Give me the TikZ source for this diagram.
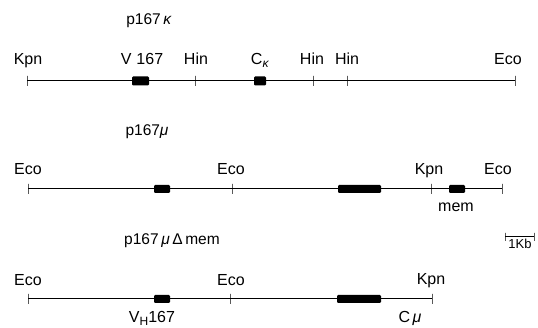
\documentclass[tikz,border=0pt]{standalone}
\usepackage{fontspec}
\setmainfont{Liberation Sans}
\begin{document}
\begin{tikzpicture}[x=1pt,y=-1pt,
  dna/.style={line width=1pt},
  site/.style={draw, line width=1pt, minimum width=0pt, minimum height=10pt,
    inner sep=0pt, outer sep=0pt},
  exon/.style={fill=black, rounded corners=1.2pt, inner sep=0pt, outer sep=0pt,
    minimum height=#1},
  exon/.default=8pt,
  lbl/.style={font=\fontsize{16}{16}\selectfont, anchor=base, inner sep=0pt},
  ttl/.style={font=\fontsize{15.5}{15.5}\selectfont, anchor=base, inner sep=0pt},
  small/.style={font=\fontsize{13}{13}\selectfont, anchor=base, inner sep=0pt}
]
\useasboundingbox (0,0) rectangle (538,328);

% ---------- p167 kappa ----------
\node[ttl] (t1) at (149,25) {p167\,\textit{κ}};
\node[site] (a1) at (27,81) {};
\node[site] (a2) at (195,81) {};
\node[site] (a3) at (313,81) {};
\node[site] (a4) at (347,81) {};
\node[site] (a5) at (515,81) {};
\draw[dna] (a1) -- (a2) -- (a3) -- (a4) -- (a5);
\node[exon=9pt, minimum width=17pt] (v1) at (140.5,81) {};
\node[exon=9pt, minimum width=12pt] (c1) at (260,81) {};
\node[lbl] (la1) at (28,65) {Kpn};
\node[lbl] (lv1) at (142,65) {V\hspace{5pt}167};
\node[lbl] (la2) at (196,65) {Hin};
\node[lbl] (lc1) at (260,65) {C\raisebox{-3pt}{\fontsize{12}{12}\selectfont\textit{κ}}};
\node[lbl] (la3) at (312,65) {Hin};
\node[lbl] (la4) at (347,65) {Hin};
\node[lbl] (la5) at (508,65) {Eco};

% ---------- p167 mu ----------
\node[ttl] (t2) at (147,136) {p167\textit{μ}};
\node[site] (b1) at (28,189) {};
\node[site] (b2) at (232,189) {};
\node[site] (b3) at (431,189) {};
\node[site] (b4) at (502,189) {};
\draw[dna] (b1) -- (b2) -- (b3) -- (b4);
\node[exon, minimum width=16pt] (v2) at (162,189) {};
\node[exon, minimum width=43pt] (c2) at (359.5,189) {};
\node[exon, minimum width=16pt] (m2) at (457,189) {};
\node[lbl] (lb1) at (28,175) {Eco};
\node[lbl] (lb2) at (231,175) {Eco};
\node[lbl] (lb3) at (429,175) {Kpn};
\node[lbl] (lb4) at (498,175) {Eco};
\node[lbl] (lm2) at (456,212) {mem};

% ---------- p167 mu delta mem ----------
\node[ttl] (t3) at (172,245) {p167\,\textit{μ}\,Δ\,mem};
\node[site] (d1) at (28,299) {};
\node[site] (d2) at (230,299) {};
\node[site] (d3) at (432,299) {};
\draw[dna] (d1) -- (d2) -- (d3);
\node[exon, minimum width=16pt] (v3) at (162,299) {};
\node[exon, minimum width=44pt] (c3) at (359,299) {};
\node[lbl] (ld1) at (28,286) {Eco};
\node[lbl] (ld2) at (231,286) {Eco};
\node[lbl] (ld3) at (431,285) {Kpn};
\node[lbl] (lv3) at (152,323) {V\raisebox{-2.5pt}{\fontsize{12}{12}\selectfont H}167};
\node[lbl] (lc3) at (410,323) {C\,\textit{μ}};

% ---------- scale bar ----------
\node[site, minimum height=8pt] (s1) at (505,237) {};
\node[site, minimum height=8pt] (s2) at (534,237) {};
\draw[dna] (s1) -- (s2);
\node[small] (ls) at (520,249) {1Kb};
\end{tikzpicture}
\end{document}
